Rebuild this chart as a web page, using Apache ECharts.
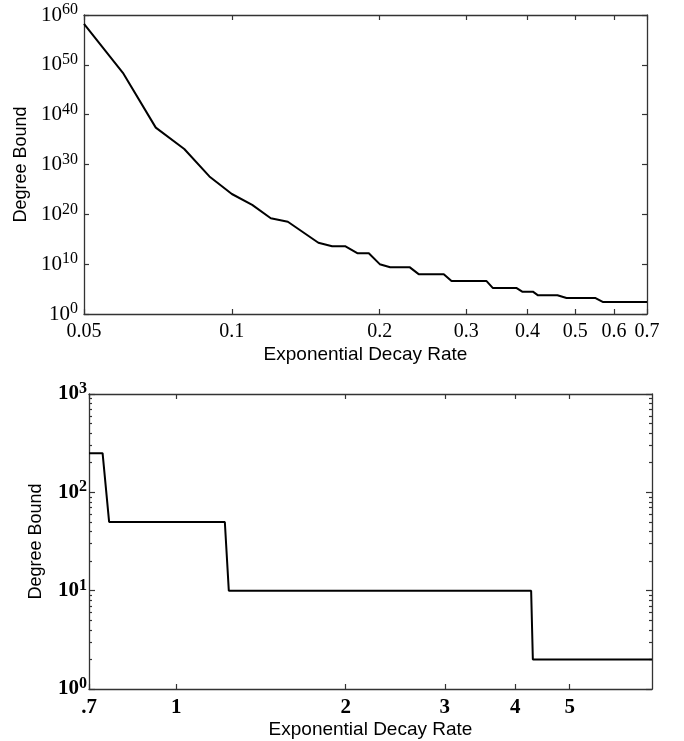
<!DOCTYPE html>
<html><head><meta charset="utf-8">
<script src="https://cdn.jsdelivr.net/npm/echarts@6/dist/echarts.min.js"></script>
<style>html,body{margin:0;padding:0;background:#fff}#c{width:684px;height:741px}</style>
</head><body><div id="c"></div>
<script>
// ---- top panel data ----
const topRate  = [0.05, 0.06, 0.07, 0.08, 0.09, 0.10, 0.11, 0.12, 0.13, 0.15, 0.16, 0.17, 0.18, 0.19, 0.20, 0.21, 0.23, 0.24, 0.27, 0.28, 0.33, 0.34, 0.38, 0.39, 0.41, 0.42, 0.46, 0.48, 0.55, 0.57, 0.70];
const topBound = [1.6e58, 2.5e48, 2.5e37, 1.3e33, 4e27, 1.2e24, 8e21, 1.6e19, 3.2e18, 2e14, 4e13, 4e13, 1.6e12, 1.6e12, 1e10, 2.5e9, 2.5e9, 1e8, 1e8, 4e6, 4e6, 1.6e5, 1.6e5, 3e4, 3e4, 5.6e3, 5.6e3, 1.6e3, 1.6e3, 250, 250];
const topXTicks  = [0.05, 0.1, 0.2, 0.3, 0.4, 0.5, 0.6, 0.7];
const topXLabels = ['0.05', '0.1', '0.2', '0.3', '0.4', '0.5', '0.6', '0.7'];
const topYTicks  = [1, 1e10, 1e20, 1e30, 1e40, 1e50, 1e60];
const topYExps   = ['0', '10', '20', '30', '40', '50', '60'];

// ---- bottom panel data ----
const botRate  = [0.7, 0.74, 0.76, 1.22, 1.24, 4.27, 4.30, 7];
const botBound = [250, 250, 50, 50, 10, 10, 2, 2];
const botXTicks  = [0.7, 1, 2, 3, 4, 5];
const botXLabels = ['.7', '1', '2', '3', '4', '5'];
const botYTicks  = [1, 10, 100, 1000];
const botYExps   = ['0', '1', '2', '3'];
const botYMinor  = [2, 3, 4, 5, 6, 7, 8, 9, 20, 30, 40, 50, 60, 70, 80, 90, 200, 300, 400, 500, 600, 700, 800, 900];

const serif = 'Liberation Serif', sans = 'Liberation Sans';
const axLine = { show: true, onZero: false, lineStyle: { color: '#333', width: 1.3 } };
// tiny widening of the extent so that the end ticks survive floating-point rounding
const EPS = 1.000001;
function idx(v, arr) {
  let best = 0, bd = Infinity;
  arr.forEach((t, i) => { const d = Math.abs(Math.log10(v / t)); if (d < bd) { bd = d; best = i; } });
  return best;
}
function xAxis(grid, pos, min, max, ticks, labels, bold, withLabels) {
  return {
    type: 'log', logBase: 10, gridIndex: grid, position: pos, min: min / EPS, max: max * EPS,
    axisLine: axLine, splitLine: { show: false }, minorTick: { show: false },
    axisTick: { show: true, inside: true, length: 5, customValues: ticks, lineStyle: { color: '#333', width: 1.2 } },
    axisLabel: withLabels ? {
      show: true, customValues: ticks, margin: 8, color: '#000', fontFamily: serif,
      fontSize: bold ? 21 : 20, fontWeight: bold ? 'bold' : 'normal',
      formatter: v => labels[idx(v, ticks)]
    } : { show: false },
    name: withLabels ? 'Exponential Decay Rate' : '',
    nameLocation: 'middle', nameGap: 31,
    nameTextStyle: { fontFamily: sans, fontSize: 19, color: '#000' }
  };
}
function yAxis(grid, pos, min, max, ticks, exps, bold, withLabels, len, gap, showLine, margin) {
  const fw = bold ? 'bold' : 'normal';
  return {
    type: 'log', logBase: 10, gridIndex: grid, position: pos, min: min / EPS, max: max * EPS,
    axisLine: showLine ? axLine : { show: false },
    splitLine: { show: false }, minorTick: { show: false },
    axisTick: { show: true, inside: true, length: len, customValues: ticks, lineStyle: { color: '#333', width: 1.2 } },
    axisLabel: withLabels ? {
      show: true, customValues: ticks, margin: margin, color: '#000',
      formatter: v => '{b|10}{s|' + exps[idx(v, ticks)] + '}',
      rich: {
        b: { fontFamily: serif, fontSize: 21, lineHeight: 26, color: '#000', fontWeight: fw },
        s: { fontFamily: serif, fontSize: 16, lineHeight: 15, verticalAlign: 'top', color: '#000', fontWeight: fw }
      }
    } : { show: false },
    name: withLabels ? 'Degree Bound' : '',
    nameLocation: 'middle', nameGap: gap, nameRotate: 90,
    nameTextStyle: { fontFamily: sans, fontSize: 18, color: '#000' }
  };
}

const chart = echarts.init(document.getElementById('c'), null, { renderer: 'canvas' });
chart.setOption({
  animation: false,
  backgroundColor: '#fff',
  grid: [
    { left: 84, top: 15, width: 563, height: 299 },
    { left: 89, top: 394, width: 563, height: 295 }
  ],
  xAxis: [
    xAxis(0, 'bottom', 0.05, 0.7, topXTicks, topXLabels, false, true),
    xAxis(0, 'top', 0.05, 0.7, topXTicks, topXLabels, false, false),
    xAxis(1, 'bottom', 0.7, 7, botXTicks, botXLabels, true, true),
    xAxis(1, 'top', 0.7, 7, botXTicks, botXLabels, true, false)
  ],
  yAxis: [
    yAxis(0, 'left', 1, 1e60, topYTicks, topYExps, false, true, 5, 51, true, 6),
    yAxis(0, 'right', 1, 1e60, topYTicks, topYExps, false, false, 5, 0, true, 0),
    yAxis(1, 'left', 1, 1000, botYTicks, botYExps, true, true, 6, 44, true, 2),
    yAxis(1, 'left', 1, 1000, botYMinor, botYExps, true, false, 3, 0, false, 0),
    yAxis(1, 'right', 1, 1000, botYTicks, botYExps, true, false, 6, 0, true, 0),
    yAxis(1, 'right', 1, 1000, botYMinor, botYExps, true, false, 3, 0, false, 0)
  ],
  series: [
    {
      type: 'line', xAxisIndex: 0, yAxisIndex: 0, showSymbol: false, symbol: 'none',
      lineStyle: { color: '#000', width: 2 },
      data: topRate.map((x, i) => [x, topBound[i]])
    },
    {
      type: 'line', xAxisIndex: 2, yAxisIndex: 2, showSymbol: false, symbol: 'none',
      lineStyle: { color: '#000', width: 2 },
      data: botRate.map((x, i) => [x, botBound[i]])
    }
  ]
});
</script>
</body></html>
